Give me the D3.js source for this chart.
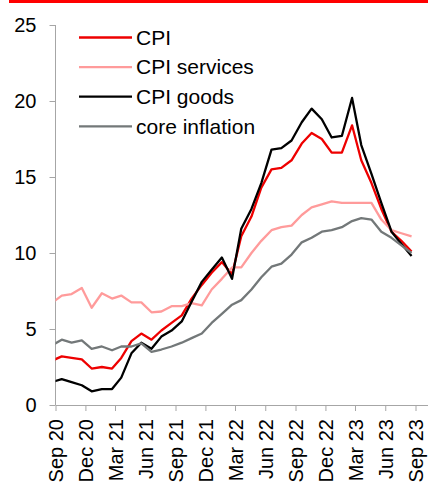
<!DOCTYPE html>
<html>
<head>
<meta charset="utf-8">
<script src="https://d3js.org/d3.v7.min.js"></script>
<style>
  body { margin: 0; background: #fff; }
  svg { display: block; font-family: "Liberation Sans", Arial, sans-serif; }
</style>
</head>
<body>
<svg id="chart"></svg>
<script>
  var width = 428, height = 485;

  // monthly observations, Aug 20 .. Aug 23 (first one sits left of the axis and is clipped)
  var months = ["2020-08","2020-09","2020-10","2020-11","2020-12",
    "2021-01","2021-02","2021-03","2021-04","2021-05","2021-06","2021-07","2021-08","2021-09","2021-10","2021-11","2021-12",
    "2022-01","2022-02","2022-03","2022-04","2022-05","2022-06","2022-07","2022-08","2022-09","2022-10","2022-11","2022-12",
    "2023-01","2023-02","2023-03","2023-04","2023-05","2023-06","2023-07","2023-08"];

  var cpi = [2.9, 3.2, 3.1, 3.0, 2.4, 2.5, 2.4, 3.1, 4.2, 4.7, 4.3, 4.9, 5.4, 5.9, 7.0, 7.9, 8.7,
    9.4, 8.6, 11.1, 12.4, 14.3, 15.5, 15.6, 16.1, 17.2, 17.9, 17.5, 16.6, 16.6, 18.4, 16.1, 14.6, 12.9, 11.4, 10.8, 10.1];
  var cpiServices = [6.7, 7.2, 7.3, 7.7, 6.4, 7.35, 7.0, 7.2, 6.75, 6.75, 6.1, 6.15, 6.5, 6.5, 6.7, 6.55, 7.6,
    8.3, 9.05, 9.05, 10.0, 10.8, 11.5, 11.7, 11.8, 12.5, 13.0, 13.2, 13.4, 13.3, 13.3, 13.3, 13.3, 12.2, 11.5, 11.3, 11.1];
  var cpiGoods = [1.5, 1.7, 1.5, 1.3, 0.9, 1.05, 1.05, 1.8, 3.4, 4.1, 3.7, 4.5, 4.9, 5.5, 6.8, 8.1, 8.9,
    9.7, 8.3, 11.6, 12.9, 14.6, 16.8, 16.9, 17.4, 18.6, 19.5, 18.8, 17.6, 17.7, 20.2, 17.1, 15.2, 13.3, 11.4, 10.6, 9.8];
  var coreInflation = [3.9, 4.3, 4.1, 4.25, 3.7, 3.85, 3.6, 3.85, 3.85, 4.05, 3.5, 3.65, 3.85, 4.1, 4.4, 4.7, 5.4,
    6.0, 6.6, 6.9, 7.6, 8.4, 9.1, 9.3, 9.9, 10.7, 11.0, 11.4, 11.5, 11.7, 12.1, 12.3, 12.2, 11.4, 11.0, 10.5, 10.0];

  var seriesNames = ["CPI", "CPI services", "CPI goods", "core inflation"];
  var seriesColors = ["#ee0000", "#ff9b9b", "#000000", "#737879"];
  var seriesValues = [cpi, cpiServices, cpiGoods, coreInflation];

  var xTickLabels = ["Sep 20","Dec 20","Mar 21","Jun 21","Sep 21","Dec 21","Mar 22","Jun 22","Sep 22","Dec 22","Mar 23","Jun 23","Sep 23"];
  var yTicks = [0, 5, 10, 15, 20, 25];

  var parseMonth = d3.timeParse("%Y-%m");
  var parseTick = d3.timeParse("%b %y");
  // observations are dated part-way through the month
  var dates = months.map(function(m) { return d3.timeDay.offset(parseMonth(m), 19); });
  var tickDates = xTickLabels.map(function(t) { return parseTick(t); });

  var x = d3.scaleTime()
    .domain([new Date(2020, 8, 1), new Date(2023, 9, 9)])
    .range([55.5, 428]);
  var y = d3.scaleLinear().domain([0, 25]).range([405, 25]);

  var svg = d3.select("#chart").attr("width", width).attr("height", height);

  // red band across the top
  svg.append("rect")
    .attr("x", 9).attr("y", 0)
    .attr("width", width - 9).attr("height", 3)
    .attr("fill", "#ff0000");

  svg.append("clipPath").attr("id", "plotClip")
    .append("rect")
    .attr("x", 55.5).attr("y", 0)
    .attr("width", width - 55.5).attr("height", height);

  // y axis
  var yAxis = svg.append("g")
    .attr("transform", "translate(55.5,0)")
    .call(d3.axisLeft(y).tickValues(yTicks).tickSize(6).tickPadding(13));
  yAxis.select(".domain").attr("stroke", "#a6a6a6").attr("d", "M0," + y(25) + "V" + y(0));
  yAxis.selectAll(".tick line").attr("stroke", "#a6a6a6");
  yAxis.selectAll(".tick text").attr("font-size", 20).attr("fill", "#000");

  // x axis
  var xAxis = svg.append("g")
    .attr("transform", "translate(0," + y(0) + ")")
    .call(d3.axisBottom(x).tickValues(tickDates).tickSize(6).tickSizeOuter(0)
      .tickFormat(function(d, i) { return xTickLabels[i]; }));
  xAxis.select(".domain").attr("stroke", "#a6a6a6");
  xAxis.selectAll(".tick line").attr("stroke", "#a6a6a6");
  xAxis.selectAll(".tick text")
    .attr("font-size", 20).attr("fill", "#000")
    .attr("transform", "rotate(-90)")
    .attr("text-anchor", "end")
    .attr("x", -14).attr("y", 0).attr("dy", "0.35em");

  // lines
  var line = d3.line()
    .x(function(d, i) { return x(dates[i]); })
    .y(function(d) { return y(d); });

  svg.append("g").attr("clip-path", "url(#plotClip)")
    .selectAll("path")
    .data(seriesValues)
    .enter().append("path")
    .attr("d", line)
    .attr("fill", "none")
    .attr("stroke", function(d, i) { return seriesColors[i]; })
    .attr("stroke-width", 2.3)
    .attr("stroke-linejoin", "round");

  // legend
  var legend = svg.append("g");
  legend.selectAll("line")
    .data(seriesNames)
    .enter().append("line")
    .attr("x1", 79).attr("x2", 132)
    .attr("y1", function(d, i) { return 37.5 + i * 29.6; })
    .attr("y2", function(d, i) { return 37.5 + i * 29.6; })
    .attr("stroke", function(d, i) { return seriesColors[i]; })
    .attr("stroke-width", 2.3);
  legend.selectAll("text")
    .data(seriesNames)
    .enter().append("text")
    .attr("x", 136)
    .attr("y", function(d, i) { return 37.5 + i * 29.6; })
    .attr("dy", "0.35em")
    .attr("font-size", 21)
    .text(function(d) { return d; });
</script>
</body>
</html>
